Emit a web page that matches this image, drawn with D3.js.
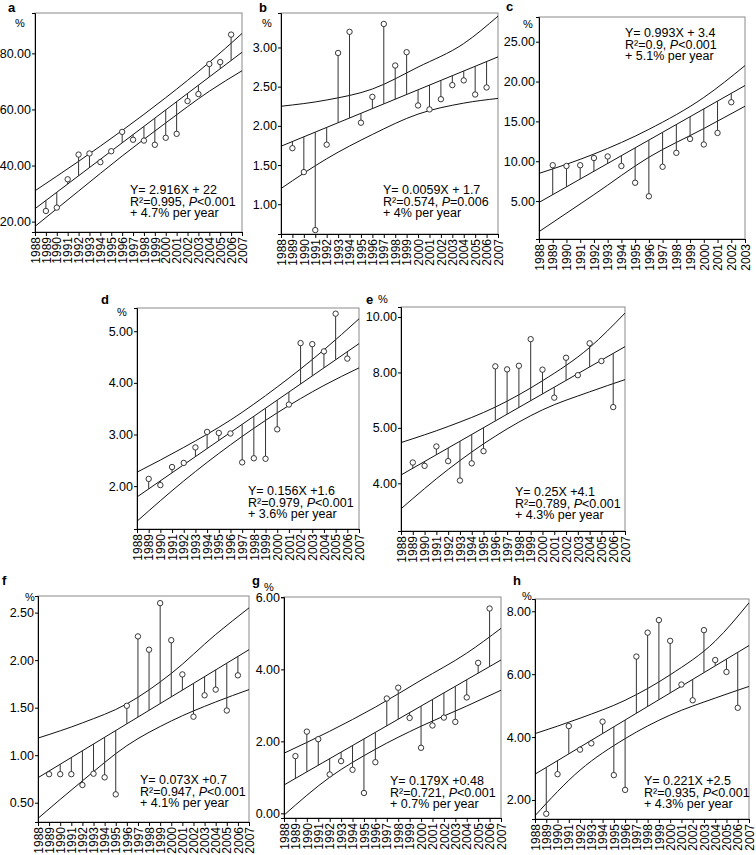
<!DOCTYPE html>
<html><head><meta charset="utf-8">
<script src="https://cdn.jsdelivr.net/npm/d3@7"></script>
<style>
body{margin:0;background:#fff}
svg{display:block}
text{font-family:"Liberation Sans",Arial,Helvetica,sans-serif;fill:#000}
</style>
</head><body>
<svg id="chart" width="756" height="855"></svg>
<script>
// ---------- categories ----------
const xTickYears = [1988,1989,1990,1991,1992,1993,1994,1995,1996,1997,1998,1999,2000,2001,2002,2003,2004,2005,2006,2007];
const xTickYearsC = [1988,1989,1990,1991,1992,1993,1994,1995,1996,1997,1998,1999,2000,2001,2002,2003];
const pointYears = [1989,1990,1991,1992,1993,1994,1995,1996,1997,1998,1999,2000,2001,2002,2003,2004,2005,2006];
const pointYearsC = [1989,1990,1991,1992,1993,1994,1995,1996,1997,1998,1999,2000,2001,2002];
const bandYears = [1988,1992,1996,2000,2004,2007];
const bandYearsC = [1988,1992,1996,2000,2003];

// ---------- series values ----------
const valuesA = [23.8,25.0,35.1,43.9,44.3,41.2,45.1,52.0,49.2,48.9,47.4,49.9,51.3,63.0,65.5,76.2,76.9,86.7];
const valuesB = [1.715,1.41,0.67,1.76,2.93,3.20,2.04,2.37,3.30,2.77,2.94,2.26,2.21,2.34,2.52,2.58,2.40,2.49];
const valuesC = [9.5,9.4,9.5,10.4,10.6,9.4,7.3,5.6,9.3,11.05,12.8,12.1,13.55,17.4];
const valuesD = [2.14,2.02,2.37,2.45,2.75,3.05,3.03,3.02,2.46,2.54,2.53,3.10,3.58,4.77,4.75,4.61,5.34,4.47];
const valuesE = [4.75,4.63,5.33,4.80,4.10,4.72,5.16,8.22,8.11,8.24,9.20,8.10,7.09,8.53,7.90,9.05,8.41,6.75];
const valuesF = [0.80,0.80,0.80,0.686,0.805,0.767,0.588,1.52,2.25,2.11,2.60,2.21,1.85,1.405,1.63,1.69,1.47,1.84];
const valuesG = [1.59,2.27,2.06,1.08,1.45,1.21,0.565,1.42,3.19,3.49,2.65,1.82,2.44,2.66,2.54,3.22,4.18,5.69];
const valuesH = [1.56,2.82,4.35,3.60,3.80,4.49,2.79,2.32,6.56,7.32,7.72,7.06,5.67,5.17,7.40,6.45,6.07,4.93];

// regression line: value at first and last x tick
const fitA = [24.6, 80.4];
const fitB = [1.74, 2.88];
const fitC = [4.83, 19.5];
const fitD = [1.79, 4.76];
const fitE = [4.30, 8.93];
const fitF = [0.763, 2.11];
const fitG = [0.787, 4.26];
const fitH = [2.82, 6.91];

// confidence bands (values at bandYears / bandYearsC)
const upperA = [31.0,41.5,52.5,64.2,76.8,87.1];
const lowerA = [18.3,30.9,43.4,55.2,66.5,73.8];
const upperB = [2.25,2.33,2.47,2.75,3.05,3.40];
const lowerB = [1.20,1.58,1.89,2.15,2.29,2.35];
const upperC = [8.47,10.9,14.0,18.0,22.0];
const lowerC = [1.16,5.8,10.5,14.1,16.9];
const upperD = [2.27,2.75,3.28,3.92,4.64,5.24];
const lowerD = [1.32,2.10,2.80,3.42,3.95,4.29];
const upperE = [5.47,6.05,6.75,7.70,8.90,10.14];
const lowerE = [3.08,4.50,5.70,6.65,7.30,7.74];
const upperF = [1.18,1.34,1.54,1.86,2.27,2.55];
const lowerF = [0.335,0.73,1.10,1.36,1.56,1.69];
const upperG = [1.67,2.28,2.95,3.70,4.45,5.14];
const lowerG = [-0.05,1.00,1.78,2.42,2.98,3.42];
const upperH = [4.11,4.60,5.17,5.98,7.05,8.27];
const lowerH = [1.50,2.95,3.95,4.70,5.24,5.61];

// ---------- tick labels ----------
const yTicksA = [20,40,60,80];          const yTickLabelsA = ["20.00","40.00","60.00","80.00"];
const yTicksB = [1,1.5,2,2.5,3];        const yTickLabelsB = ["1.00","1.50","2.00","2.50","3.00"];
const yTicksC = [5,10,15,20,25];        const yTickLabelsC = ["5.00","10.00","15.00","20.00","25.00"];
const yTicksD = [2,3,4,5];              const yTickLabelsD = ["2.00","3.00","4.00","5.00"];
const yTicksE = [4,6,8,10];             const yTickLabelsE = ["4.00","5.00","8.00","10.00"];
const yTicksF = [0.5,1,1.5,2,2.5];      const yTickLabelsF = ["0.50","1.00","1.50","2.00","2.50"];
const yTicksG = [0,2,4,6];              const yTickLabelsG = ["0.00","2.00","4.00","6.00"];
const yTicksH = [2,4,6,8];              const yTickLabelsH = ["2.00","4.00","6.00","8.00"];

// ---------- annotation texts ----------
const statsA = ["Y= 2.916X + 22","R²=0.995, |P|<0.001","+ 4.7% per year"];
const statsB = ["Y= 0.0059X + 1.7","R²=0.574, |P|=0.006","+ 4% per year"];
const statsC = ["Y= 0.993X + 3.4","R²=0.9, |P|<0.001","+ 5.1% per year"];
const statsD = ["Y= 0.156X +1.6","R²=0.979, |P|<0.001","+ 3.6% per year"];
const statsE = ["Y= 0.25X +4.1","R²=0.789, |P|<0.001","+ 4.3% per year"];
const statsF = ["Y= 0.073X +0.7","R²=0.947, |P|<0.001","+ 4.1% per year"];
const statsG = ["Y= 0.179X +0.48","R²=0.721, |P|<0.001","+ 0.7% per year"];
const statsH = ["Y= 0.221X +2.5","R²=0.935, |P|<0.001","+ 4.3% per year"];
const panelLetters = ["a","b","c","d","e","f","g","h"];
const unitLabel = "%";

// ---------- layout (positions only) ----------
const panels = [
  {values:valuesA, years:pointYears, xTicks:xTickYears, fit:fitA, upper:upperA, lower:lowerA, bandX:bandYears, yTicks:yTicksA, yLabels:yTickLabelsA, stats:statsA,
   box:[35,13,242,232], yDomain:[16.3,94.4], letter:[8,12], pct:[15,27], text:[130,194]},
  {values:valuesB, years:pointYears, xTicks:xTickYears, fit:fitB, upper:upperB, lower:lowerB, bandX:bandYears, yTicks:yTicksB, yLabels:yTickLabelsB, stats:statsB,
   box:[281,13,498,234], yDomain:[0.62,3.44], letter:[259,12], pct:[262,27], text:[383,194]},
  {values:valuesC, years:pointYearsC, xTicks:xTickYearsC, fit:fitC, upper:upperC, lower:lowerC, bandX:bandYearsC, yTicks:yTicksC, yLabels:yTickLabelsC, stats:statsC,
   box:[539,17,745,239], yDomain:[0.24,28.1], letter:[506,11], pct:[523,28], text:[625,37]},
  {values:valuesD, years:pointYears, xTicks:xTickYears, fit:fitD, upper:upperD, lower:lowerD, bandX:bandYears, yTicks:yTicksD, yLabels:yTickLabelsD, stats:statsD,
   box:[137,308,359,529], yDomain:[1.17,5.45], letter:[101,304], pct:[117,316], text:[248,495]},
  {values:valuesE, years:pointYears, xTicks:xTickYears, fit:fitE, upper:upperE, lower:lowerE, bandX:bandYears, yTicks:yTicksE, yLabels:yTickLabelsE, stats:statsE,
   box:[401,307,625,531], yDomain:[2.28,10.36], letter:[366,304], pct:[378,303], text:[515,496]},
  {values:valuesF, years:pointYears, xTicks:xTickYears, fit:fitF, upper:upperF, lower:lowerF, bandX:bandYears, yTicks:yTicksF, yLabels:yTickLabelsF, stats:statsF,
   box:[38,596,249,822], yDomain:[0.297,2.675], letter:[2,585], pct:[25,601], text:[140,784]},
  {values:valuesG, years:pointYears, xTicks:xTickYears, fit:fitG, upper:upperG, lower:lowerG, bandX:bandYears, yTicks:yTicksG, yLabels:yTickLabelsG, stats:statsG,
   box:[284,597,501,818], yDomain:[-0.13,6.01], letter:[252,585], pct:[264,591], text:[390,785]},
  {values:valuesH, years:pointYears, xTicks:xTickYears, fit:fitH, upper:upperH, lower:lowerH, bandX:bandYears, yTicks:yTicksH, yLabels:yTickLabelsH, stats:statsH,
   box:[535,599,749,819], yDomain:[1.395,8.39], letter:[513,585], pct:[522,600], text:[644,785]}
];

const svg = d3.select("#chart");
const FONT = '"Liberation Sans",Arial,sans-serif';

panels.forEach((p, i) => {
  const [x0, y0, x1, y1] = p.box;
  const g = svg.append("g");
  const xFirst = p.xTicks[0], xLast = p.xTicks[p.xTicks.length - 1];
  const x = d3.scaleLinear().domain([xFirst, xLast]).range([x0, x1]);
  const y = d3.scaleLinear().domain(p.yDomain).range([y1, y0]);
  const fitScale = d3.scaleLinear().domain([xFirst, xLast]).range(p.fit);

  // frame
  g.append("rect").attr("x", x0).attr("y", y0).attr("width", x1 - x0).attr("height", y1 - y0)
    .attr("fill", "none").attr("stroke", "#8a8a8a").attr("stroke-width", 1);

  // bands and fit line
  const line = d3.line().x(d => x(d[0])).y(d => y(d[1])).curve(d3.curveMonotoneX);
  const clipId = "clip" + i;
  g.append("clipPath").attr("id", clipId).append("rect")
    .attr("x", x0).attr("y", y0).attr("width", x1 - x0).attr("height", y1 - y0);
  const inner = g.append("g").attr("clip-path", `url(#${clipId})`);
  inner.append("path").datum(p.bandX.map((yr, k) => [yr, p.upper[k]]))
    .attr("d", line).attr("fill", "none").attr("stroke", "#111").attr("stroke-width", 1);
  inner.append("path").datum(p.bandX.map((yr, k) => [yr, p.lower[k]]))
    .attr("d", line).attr("fill", "none").attr("stroke", "#111").attr("stroke-width", 1);
  inner.append("path").datum([[xFirst, p.fit[0]], [xLast, p.fit[1]]])
    .attr("d", d3.line().x(d => x(d[0])).y(d => y(d[1])))
    .attr("fill", "none").attr("stroke", "#111").attr("stroke-width", 1);

  // stems (point to fit line)
  const pts = p.years.map((yr, k) => ({yr, v: p.values[k]}));
  g.selectAll(".stem").data(pts).join("line")
    .attr("x1", d => x(d.yr)).attr("x2", d => x(d.yr))
    .attr("y1", d => y(d.v)).attr("y2", d => y(fitScale(d.yr)))
    .attr("stroke", "#333").attr("stroke-width", 1);
  g.selectAll(".pt").data(pts).join("circle")
    .attr("cx", d => x(d.yr)).attr("cy", d => y(d.v)).attr("r", 2.7)
    .attr("fill", "#fff").attr("stroke", "#222").attr("stroke-width", 0.9);

  // y axis
  const yAxis = d3.axisLeft(y).tickValues(p.yTicks).tickSize(3).tickPadding(1)
    .tickFormat((d, k) => p.yLabels[k]);
  const ya = g.append("g").attr("transform", `translate(${x0},0)`).call(yAxis);
  ya.select(".domain").attr("stroke", "#000");
  ya.selectAll("line").attr("stroke", "#000");
  ya.selectAll("text").attr("font-size", "12.5px").attr("fill", "#000").style("font-family", FONT);

  // x axis
  const xAxis = d3.axisBottom(x).tickValues(p.xTicks).tickSize(4).tickFormat(d3.format("d"));
  const xa = g.append("g").attr("transform", `translate(0,${y1})`).call(xAxis);
  xa.select(".domain").attr("stroke", "#000");
  xa.selectAll("line").attr("stroke", "#000");
  xa.selectAll("text").attr("font-size", "12px").attr("fill", "#000").style("font-family", FONT)
    .attr("transform", "rotate(-90)")
    .attr("x", -5).attr("y", 0).attr("dy", "0.35em")
    .attr("text-anchor", "end");

  // panel letter and unit
  g.append("text").attr("x", p.letter[0]).attr("y", p.letter[1])
    .attr("font-size", "13px").attr("font-weight", "bold").text(panelLetters[i]);
  g.append("text").attr("x", p.pct[0]).attr("y", p.pct[1])
    .attr("font-size", "11px").text(unitLabel);

  // stats text
  p.stats.forEach((s, k) => {
    const t = g.append("text").attr("x", p.text[0]).attr("y", p.text[1] + k * 11.6)
      .attr("font-size", "12.5px");
    s.split("|").forEach((part, j) => {
      const ts = t.append("tspan").text(part);
      if (j === 1) ts.attr("font-style", "italic");
    });
  });
});
</script>
</body></html>
